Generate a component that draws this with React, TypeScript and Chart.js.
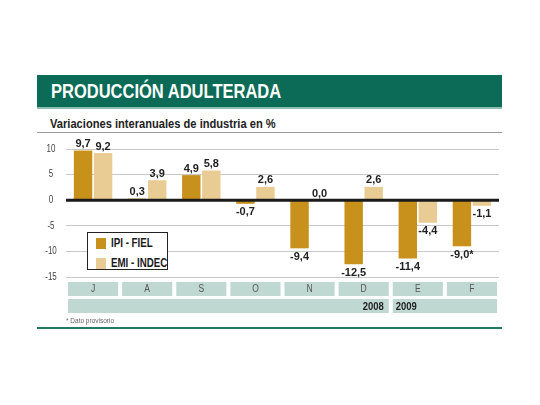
import React, { useEffect, useRef } from "react";
import { Chart, registerables } from "chart.js";

Chart.register(...registerables);

// ---- data ----
const months = ["J", "A", "S", "O", "N", "D", "E", "F"];
const ipiFiel = [9.7, 0.3, 4.9, -0.7, -9.4, -12.5, -11.4, -9.0];
const emiIndec = [9.2, 3.9, 5.8, 2.6, 0.0, 2.6, -4.4, -1.1];
const ipiProvisional = [false, false, false, false, false, false, false, true];
const yearLabels = ["2008", "2009"];
const yearFirstMonth = [0, 6];
const yearLastMonth = [5, 7];
const yTicks = [10, 5, 0, -5, -10, -15];
const seriesNames = ["IPI - FIEL", "EMI - INDEC"];
const seriesColors = ["#c8911b", "#e8cc94"];

const FONT = "'Liberation Sans', Arial, Helvetica, sans-serif";
const GREEN = "#0b6b56";
const BOX = "#bfd8d2";

const fmt = (v: number) => v.toFixed(1).replace(".", ",");

function drawText(ctx: any, txt: string, x: number, y: number, sx: number) {
  ctx.save();
  ctx.translate(x, y);
  ctx.scale(sx, 1);
  ctx.fillText(txt, 0, 0);
  ctx.restore();
}

const overlayPlugin = {
  id: "overlay",
  afterDatasetsDraw(chart: any) {
    const { ctx, scales, chartArea } = chart;
    const x = scales.x;
    const y = scales.y;
    ctx.save();

    // y tick labels
    ctx.font = `10px ${FONT}`;
    ctx.fillStyle = "#444";
    ctx.textAlign = "center";
    ctx.textBaseline = "middle";
    yTicks.forEach((t) => {
      drawText(ctx, String(t), chartArea.left - 15, y.getPixelForValue(t), 0.8);
    });

    // zero line
    const y0 = y.getPixelForValue(0);
    ctx.strokeStyle = "#1a1a1a";
    ctx.lineWidth = 3;
    ctx.beginPath();
    ctx.moveTo(chartArea.left, y0);
    ctx.lineTo(chartArea.right, y0);
    ctx.stroke();

    // value labels
    ctx.font = `bold 11px ${FONT}`;
    ctx.fillStyle = "#222";
    ctx.textAlign = "center";
    chart.data.datasets.forEach((ds: any, di: number) => {
      const meta = chart.getDatasetMeta(di);
      meta.data.forEach((bar: any, i: number) => {
        const v = ds.data[i];
        let txt = fmt(v);
        if (di === 0 && ipiProvisional[i]) txt += "*";
        if (v >= 0) {
          ctx.textBaseline = "bottom";
          ctx.fillText(txt, bar.x, bar.y - 1);
        } else {
          ctx.textBaseline = "top";
          ctx.fillText(txt, bar.x, bar.y + 3);
        }
      });
    });

    // category boxes
    const n = months.length;
    const step = (chartArea.right - chartArea.left) / n;
    const gap = 4;
    const top1 = chartArea.bottom + 5;
    const h1 = 14;
    const top2 = top1 + h1 + 3;
    const h2 = 14;
    ctx.textBaseline = "middle";
    months.forEach((m, i) => {
      const c = x.getPixelForValue(i);
      const l = c - step / 2 + gap / 2;
      const r = c + step / 2 - gap / 2;
      ctx.fillStyle = BOX;
      ctx.fillRect(l, top1, r - l, h1);
      ctx.fillStyle = "#555";
      ctx.font = `10px ${FONT}`;
      ctx.textAlign = "center";
      drawText(ctx, m, c, top1 + h1 / 2 + 0.5, 0.85);
    });
    yearLabels.forEach((yl, k) => {
      const l = x.getPixelForValue(yearFirstMonth[k]) - step / 2 + gap / 2;
      const r = x.getPixelForValue(yearLastMonth[k]) + step / 2 - gap / 2;
      ctx.fillStyle = BOX;
      ctx.fillRect(l, top2, r - l, h2);
      ctx.fillStyle = "#222";
      ctx.font = `bold 11px ${FONT}`;
      if (k === 0) {
        ctx.textAlign = "right";
        drawText(ctx, yl, r - 5, top2 + h2 / 2 + 0.5, 0.86);
      } else {
        ctx.textAlign = "left";
        drawText(ctx, yl, l + 3, top2 + h2 / 2 + 0.5, 0.86);
      }
    });
    ctx.restore();
  },
};

export default function App() {
  const ref = useRef<HTMLCanvasElement | null>(null);

  useEffect(() => {
    document.body.style.margin = "0";
    if (!ref.current) return;
    const chart = new Chart(ref.current, {
      type: "bar",
      data: {
        labels: months,
        datasets: [
          {
            label: seriesNames[0],
            data: ipiFiel,
            backgroundColor: seriesColors[0],
            categoryPercentage: 0.74,
            barPercentage: 0.92,
          },
          {
            label: seriesNames[1],
            data: emiIndec,
            backgroundColor: seriesColors[1],
            categoryPercentage: 0.74,
            barPercentage: 0.92,
          },
        ],
      },
      options: {
        responsive: false,
        animation: false,
        layout: { padding: { left: 36, right: 41, top: 14, bottom: 53 } },
        plugins: { legend: { display: false }, tooltip: { enabled: false } },
        scales: {
          x: { display: false },
          y: {
            min: -15,
            max: 10,
            afterFit: (s: any) => {
              s.width = 30;
            },
            afterBuildTicks: (s: any) => {
              s.ticks = yTicks.map((v) => ({ value: v }));
            },
            border: { display: false },
            grid: {
              drawTicks: false,
              color: (c: any) => (c.tick && c.tick.value === 0 ? "rgba(0,0,0,0)" : "#c9c9c9"),
              lineWidth: 1,
            },
            ticks: { display: false },
          },
        },
      },
      plugins: [overlayPlugin],
    } as any);
    return () => chart.destroy();
  }, []);

  return (
    <div
      style={{
        position: "absolute",
        left: 0,
        top: 0,
        width: 540,
        height: 405,
        background: "#fff",
        fontFamily: FONT,
      }}
    >
      <div
        style={{
          position: "absolute",
          left: 37,
          top: 75,
          width: 465,
          height: 32,
          background: GREEN,
          borderBottom: "2px solid #8dbdb0",
        }}
      >
        <div
          style={{
            position: "absolute",
            left: 14,
            top: 4,
            color: "#fff",
            fontWeight: "bold",
            fontSize: 21,
            lineHeight: "24px",
            whiteSpace: "nowrap",
            transform: "scaleX(0.786)",
            transformOrigin: "0 0",
          }}
        >
          PRODUCCIÓN ADULTERADA
        </div>
      </div>
      <div
        style={{
          position: "absolute",
          left: 37,
          top: 116,
          width: 465,
          height: 16,
          borderBottom: "1px solid #9a9a9a",
        }}
      >
        <div
          style={{
            position: "absolute",
            left: 13,
            top: 1,
            fontWeight: "bold",
            fontSize: 12.5,
            lineHeight: "15px",
            color: "#222",
            whiteSpace: "nowrap",
            transform: "scaleX(0.89)",
            transformOrigin: "0 0",
          }}
        >
          Variaciones interanuales de industria en %
        </div>
      </div>
      <canvas
        ref={ref}
        width={540}
        height={195}
        style={{ position: "absolute", left: 0, top: 135, width: 540, height: 195 }}
      />
      <div
        style={{
          position: "absolute",
          left: 87,
          top: 232,
          width: 79,
          height: 36,
          border: "1.5px solid #222",
          background: "#fff",
        }}
      >
        {seriesNames.map((name, i) => (
          <div
            key={name}
            style={{
              position: "absolute",
              left: 8,
              top: 3 + i * 20,
              height: 14,
              display: "flex",
              alignItems: "center",
              whiteSpace: "nowrap",
            }}
          >
            <span
              style={{
                display: "inline-block",
                width: 10,
                height: 11,
                background: seriesColors[i],
                marginRight: 5,
              }}
            />
            <span
              style={{
                display: "inline-block",
                fontWeight: "bold",
                fontSize: 12.5,
                color: "#1a1a1a",
                transform: "scaleX(0.78)",
                transformOrigin: "0 50%",
              }}
            >
              {name}
            </span>
          </div>
        ))}
      </div>
      <div
        style={{
          position: "absolute",
          left: 66,
          top: 317,
          fontSize: 6.5,
          color: "#666",
          whiteSpace: "nowrap",
        }}
      >
        * Dato provisorio
      </div>
      <div
        style={{
          position: "absolute",
          left: 37,
          top: 327,
          width: 465,
          height: 2,
          background: "#217a63",
        }}
      />
    </div>
  );
}
